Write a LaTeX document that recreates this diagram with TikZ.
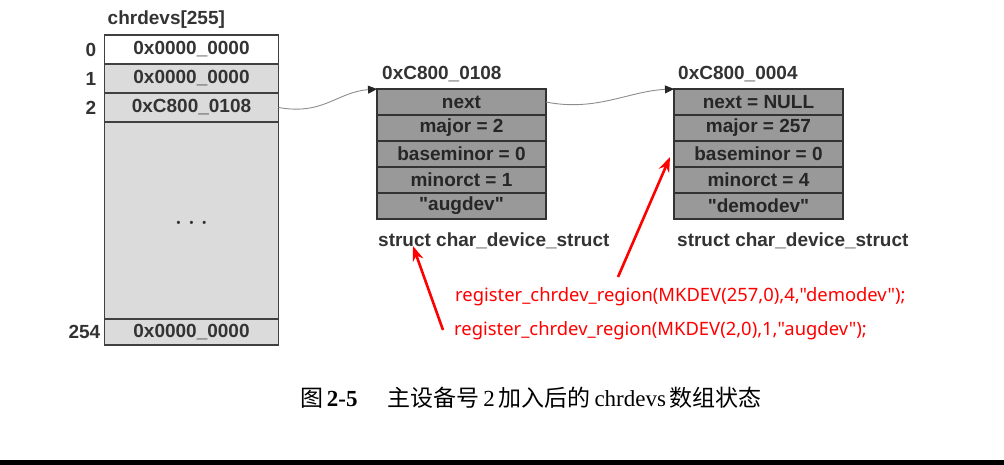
\documentclass[tikz,border=0pt]{standalone}
\usepackage{fontspec}
\setmainfont{Liberation Serif}
\newfontfamily\figfont{Liberation Sans}
\newfontfamily\codefont{Noto Sans}
\newfontfamily\cjk{Noto Sans CJK SC}
\usetikzlibrary{positioning,arrows.meta}
\newcommand\figsize{\fontsize{19}{21}\selectfont}

\tikzset{
	cell/.style={draw=black!75, line width=1.3pt, fill=black!14, minimum width=174pt, minimum height=29pt, inner sep=0pt, outer sep=0pt, font=\figfont\bfseries\figsize, text=black!80},
	field/.style={draw=black!80, line width=1.3pt, fill=black!40, minimum width=169pt, minimum height=26pt, inner sep=0pt, outer sep=0pt, font=\figfont\bfseries\figsize, text=black!85},
	lbl/.style={inner sep=0pt, font=\figfont\bfseries\figsize, text=black!80},
	link/.style={draw=black!45, line width=0.9pt, -{Triangle[length=9pt,width=8pt,color=black!85]}},
	redarrow/.style={red, line width=2.6pt, -{Stealth[length=15pt,width=11pt]}},
	code/.style={text=red, font=\codefont\fontsize{18.4}{20}\selectfont, inner sep=0pt, anchor=west}
}

\begin{document}
\begin{tikzpicture}[x=1pt,y=-1pt]
	\useasboundingbox (0,0) rectangle (1004,465);
	
	%%%%% chrdevs array %%%%%
	\node[cell, fill=white] (c0) at (191.5,49.5) {0x0000\_0000};
	\node[cell, below=0pt of c0] (c1) {0x0000\_0000};
	\node[cell, below=0pt of c1] (c2) {0xC800\_0108};
	\node[cell, below=0pt of c2, minimum height=197pt] (cgap) {\raisebox{-6pt}[0pt][0pt]{\fontsize{11}{12}\selectfont •\hspace{9pt}•\hspace{9pt}•}};
	\node[cell, below=0pt of cgap, minimum height=26pt] (c254) {0x0000\_0000};
	
	\node[lbl, above right=6pt and 3pt of c0.north west] (arr) {chrdevs[255]};
	\node[lbl, left=8pt of c0] (i0) {0};
	\node[lbl, left=8pt of c1] (i1) {1};
	\node[lbl, left=8pt of c2] (i2) {2};
	\node[lbl, left=4pt of c254] (i254) {254};
	
	%%%%% first struct %%%%%
	\node[field] (n1) at (461.5,102) {next};
	\node[field, below=0pt of n1] (m1) {major = 2};
	\node[field, below=0pt of m1] (b1) {baseminor = 0};
	\node[field, below=0pt of b1] (k1) {minorct = 1};
	\node[field, below=0pt of k1] (d1) {"augdev"};
	\node[lbl, above right=7pt and 5pt of n1.north west] (a1) {0xC800\_0108};
	\node[lbl, below right=14pt and 1pt of d1.south west] (s1) {struct char\_device\_struct};
	
	%%%%% second struct %%%%%
	\node[field] (n2) at (758.5,102) {next = NULL};
	\node[field, below=0pt of n2] (m2) {major = 257};
	\node[field, below=0pt of m2] (b2) {baseminor = 0};
	\node[field, below=0pt of b2] (k2) {minorct = 4};
	\node[field, below=0pt of k2] (d2) {"demodev"};
	\node[lbl, above right=7pt and 4pt of n2.north west] (a2) {0xC800\_0004};
	\node[lbl, below right=14pt and 3pt of d2.south west] (s2) {struct char\_device\_struct};
	
	%%%%% links %%%%%
	\draw[link] (c2.east) .. controls +(45,8) and +(-40,3) .. (n1.north west);
	\draw[link] (n1.east) .. controls +(50,10) and +(-45,2) .. (n2.north west);
	
	%%%%% register calls %%%%%
	\node[code] (r2) at (455,297) {register\_chrdev\_region(MKDEV(257,0),4,"demodev");};
	\node[code] (r1) at (454,331) {register\_chrdev\_region(MKDEV(2,0),1,"augdev");};
	\coordinate (t1) at (443,330);
	\coordinate (h1) at (413,246);
	\coordinate (t2) at (618,277);
	\coordinate (h2) at (670,157);
	\draw[redarrow] (t1) -- (h1);
	\draw[redarrow] (t2) -- (h2);
	
	%%%%% caption %%%%%
	\node[inner sep=0pt, font=\fontsize{23}{25}\selectfont] (cap) at (531,398)
		{{\cjk 图}\,\textbf{2-5}\hspace{1.3em}{\cjk 主设备号}\,2\,{\cjk 加入后的}\,chrdevs\,{\cjk 数组状态}};
	
	\fill (0,460) rectangle (1004,465);
\end{tikzpicture}
\end{document}
